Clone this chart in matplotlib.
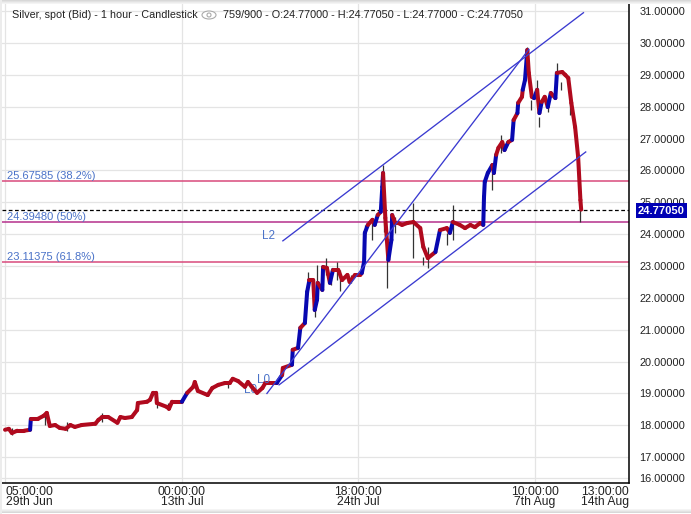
import matplotlib
matplotlib.use('Agg')
import matplotlib.pyplot as plt
from matplotlib.patches import Rectangle, Ellipse

plt.rcParams['font.family'] = ['Liberation Sans', 'DejaVu Sans']

# price path, x is the bar number (759 of 900 on screen)
bars = [0, 5, 9, 16, 25, 33, 34, 43, 51, 55, 59, 66, 72, 80, 86, 92, 101, 119, 123, 128,
        136, 148, 152, 158, 167, 174, 175, 187, 191, 195, 199, 200, 213, 216, 220, 233, 240, 248, 250, 254,
        267, 273, 281, 290, 296, 300, 307, 316, 320, 325, 332, 339, 343, 349, 358, 365, 366, 378, 379, 386,
        389, 395, 398, 401, 406, 408, 411, 412, 418, 419, 424, 428, 432, 439, 444, 451, 454, 461, 468, 470,
        473, 474, 478, 484, 487, 491, 495, 497, 498, 501, 503, 505, 509, 510, 514, 518, 523, 530, 538, 547,
        551, 557, 567, 573, 582, 586, 590, 599, 606, 613, 619, 626, 630, 631, 632, 636, 642, 644, 647, 650,
        655, 658, 663, 668, 670, 675, 676, 681, 682, 685, 688, 690, 694, 697, 701, 704, 707, 711, 715, 719,
        725, 727, 734, 738, 742, 746, 751, 755, 758, 759]
closes = [17.86, 17.89, 17.76, 17.83, 17.83, 17.86, 18.20, 18.20, 18.30, 18.39, 17.98, 18.01, 17.92, 17.89, 18.01, 17.95, 18.01, 18.05, 18.17, 18.26,
          18.26, 18.08, 18.26, 18.23, 18.26, 18.48, 18.70, 18.74, 18.80, 19.02, 19.02, 18.70, 18.58, 18.52, 18.74, 18.74, 19.02, 19.21, 19.36, 19.08,
          18.95, 19.17, 19.27, 19.33, 19.33, 19.46, 19.39, 19.21, 19.36, 19.21, 19.02, 19.17, 19.33, 19.33, 19.33, 19.58, 19.80, 19.90, 20.37, 20.43,
          21.06, 21.21, 22.19, 22.56, 22.56, 21.62, 21.94, 22.47, 22.25, 22.97, 22.94, 22.47, 22.88, 22.88, 22.56, 22.72, 22.50, 22.72, 22.72, 22.78,
          23.13, 24.04, 24.29, 24.45, 24.29, 24.60, 24.70, 25.48, 25.92, 24.51, 23.82, 23.19, 23.82, 24.60, 24.35, 24.35, 24.29, 24.35, 24.38, 24.19,
          23.60, 23.25, 23.44, 24.13, 24.19, 24.04, 24.38, 24.29, 24.19, 24.29, 24.22, 24.35, 24.29, 25.17, 25.64, 25.92, 26.17, 25.92, 26.49, 26.71,
          26.89, 26.64, 26.89, 26.96, 27.58, 27.80, 28.12, 28.31, 28.53, 28.84, 29.78, 29.06, 28.31, 28.27, 28.53, 27.80, 28.15, 28.31, 27.99, 28.43,
          28.27, 29.06, 29.09, 29.00, 28.90, 28.12, 27.36, 26.42, 25.07, 24.77]

wick_bars = [9, 53, 82, 128, 200, 215, 294, 399, 411, 423, 408, 430, 437, 441, 456, 474, 484, 503, 499, 514,
             538, 551, 557, 590, 582, 498, 642, 654, 693, 701, 704, 715, 727, 733, 744, 758, 688]
wick_highs = [17.92, 18.42, 18.11, 18.39, 18.90, 18.70, 19.40, 22.81, 23.03, 23.25, 22.09, 22.88, 23.13, 22.88, 22.72, 24.29, 24.51, 23.82, 24.51, 24.54,
              24.98, 23.28, 23.60, 24.92, 24.04, 26.17, 25.92, 27.11, 28.21, 28.84, 27.68, 28.31, 29.37, 28.78, 28.21, 24.76, 29.87]
wick_lows = [17.70, 18.00, 17.83, 18.10, 18.55, 18.48, 19.17, 22.25, 22.47, 22.72, 21.40, 22.41, 22.56, 22.22, 22.47, 23.88, 23.82, 22.31, 24.07, 24.04,
             23.25, 23.03, 22.94, 23.82, 23.66, 25.92, 25.39, 26.55, 27.90, 28.31, 27.36, 27.83, 29.06, 28.53, 27.74, 24.38, 29.47]

# trend lines: (bar start, price start, bar end, price end)
trend_lines = [(345, 19.00, 690, 29.80),
               (361, 19.27, 765, 26.58),
               (366, 23.79, 762, 30.95)]

fib_levels = [25.67585, 24.39480, 23.11375]
fib_labels = ['25.67585 (38.2%)', '24.39480 (50%)', '23.11375 (61.8%)']
fib_colors = ['#d94a7c', '#b5308c', '#d94a7c']
last_price = 24.77050

y_ticks = [31, 30, 29, 28, 27, 26, 25, 24, 23, 22, 21, 20, 19, 18, 17, 16.35]
y_labels = ['31.00000', '30.00000', '29.00000', '28.00000', '27.00000', '26.00000', '25.00000', '24.00000',
            '23.00000', '22.00000', '21.00000', '20.00000', '19.00000', '18.00000', '17.00000', '16.00000']
x_ticks = [0, 233, 465, 698, 822]
x_labels = ['05:00:00\n29th Jun', '00:00:00\n13th Jul', '18:00:00\n24th Jul', '10:00:00\n7th Aug', '13:00:00\n14th Aug']

RED = '#b00a1e'
BLUE = '#0808b0'
LINE_BLUE = '#3a3ad0'
LABEL_BLUE = '#4a72c8'

W, H = 691, 514


def fx(x):
    return x / W


def fy(y):
    return 1 - y / H


fig = plt.figure(figsize=(W / 100, H / 100), dpi=100, facecolor='white')
ax = fig.add_axes([fx(2), fy(483), fx(627), 480 / H])
ax.set_xlim(-4, 822)
ax.set_ylim(16.19, 31.255)

# soft grey edges of the screenshot
for i, shade in enumerate(['#d8d8d8', '#e2e2e2', '#ececec', '#f4f4f4']):
    fig.add_artist(Rectangle((0, fy(i + 1)), 1, 1 / H, transform=fig.transFigure, fc=shade, ec='none'))
    fig.add_artist(Rectangle((0, fy(513 - i)), 1, 1 / H, transform=fig.transFigure, fc=shade, ec='none'))
fig.add_artist(Rectangle((0, 0), 2 / W, 1, transform=fig.transFigure, fc='#ececec', ec='none'))

ax.set_yticks(y_ticks)
ax.set_yticklabels(y_labels, fontsize=7.9, color='#222222')
ax.yaxis.tick_right()
ax.set_xticks(x_ticks)
ax.set_xticklabels(x_labels, fontsize=8.7, color='#222222', linespacing=0.85, multialignment='center')
ax.tick_params(length=0)
ax.tick_params(axis='y', pad=7.5)
ax.tick_params(axis='x', pad=2)
xt = ax.get_xticklabels()
xt[0].set_ha('left')
xt[-1].set_ha('right')
ax.grid(True, color='#e4e4e4', lw=0.9)
ax.set_axisbelow(True)
ax.spines['top'].set_visible(False)
ax.spines['left'].set_visible(False)
ax.spines['right'].set_linewidth(1.1)
ax.spines['bottom'].set_linewidth(1.1)

for level, color in zip(fib_levels, fib_colors):
    ax.axhline(level, color=color, lw=1.1, zorder=2)
ax.axhline(last_price, color='black', lw=0.9, ls=(0, (3, 2)), zorder=2)

for level, label in zip(fib_levels, fib_labels):
    ax.text(3, level + 0.06, label, color=LABEL_BLUE, fontsize=8, va='baseline', ha='left', zorder=3)

ax.text(347, 23.95, 'L2', color=LABEL_BLUE, fontsize=8.4, ha='center', va='center')
ax.text(340, 19.42, 'L0', color=LABEL_BLUE, fontsize=8.4, ha='center', va='center', zorder=6)
ax.text(323, 19.12, 'L0', color=LABEL_BLUE, fontsize=8.4, ha='center', va='center', zorder=3)

ax.vlines(wick_bars, wick_lows, wick_highs, color='#333333', lw=0.9, zorder=4)

for i in range(1, len(bars)):
    rise = closes[i] - closes[i - 1]
    color = BLUE if rise >= 0.25 else RED
    ax.plot(bars[i - 1:i + 1], closes[i - 1:i + 1], color=color, lw=2.9, solid_capstyle='round', zorder=5)

for x0, y0, x1, y1 in trend_lines:
    ax.plot([x0, x1], [y0, y1], color=LINE_BLUE, lw=0.95, zorder=6)

# last price flag covers the 25.00000 label
fig.text(fx(661.5), fy(210.5), f'{last_price:.5f}', color='white', fontsize=8, fontweight='bold', ha='center', va='center',
         bbox=dict(fc='#0000b4', ec='none', boxstyle='square,pad=0.22'), zorder=10)

fig.text(fx(12), fy(15), 'Silver, spot (Bid) - 1 hour - Candlestick', fontsize=7.75, color='#222222', va='center')
fig.text(fx(223), fy(15), '759/900 - O:24.77000 - H:24.77050 - L:24.77000 - C:24.77050', fontsize=7.8, color='#222222', va='center')
fig.add_artist(Ellipse((fx(209), fy(15)), 14 / W, 8 / H, transform=fig.transFigure, fc='white', ec='#aaaaaa', lw=0.8))
fig.add_artist(Ellipse((fx(209), fy(15)), 4 / W, 4 / H, transform=fig.transFigure, fc='white', ec='#aaaaaa', lw=0.8))

fig.savefig('out.png', dpi=100, facecolor='white')
